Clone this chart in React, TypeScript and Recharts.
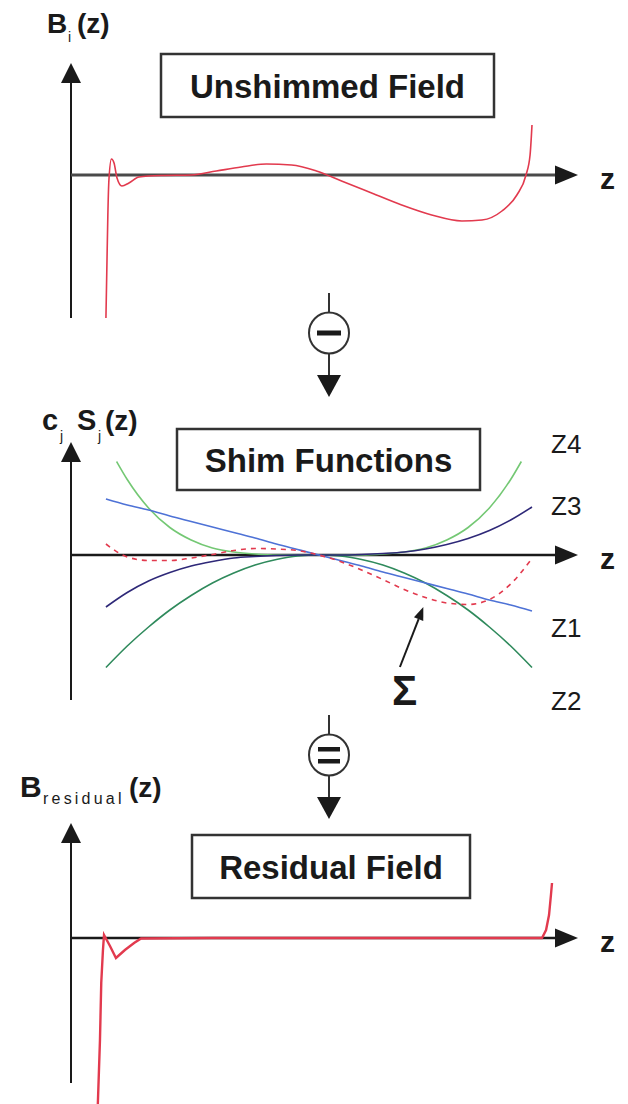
import { LineChart, Line, XAxis, YAxis, ReferenceLine } from 'recharts'

// horizontal extent shared by the three panels (z = ±1 spans the coil region)
const Z_MIN = -1.164
const Z_MAX = 1.216

// unshimmed field B_i(z)
const fieldZ = [
  -1.0, -0.995, -0.991, -0.986, -0.974, -0.962, -0.948, -0.925, -0.892, -0.845,
  -0.741, -0.6, -0.482, -0.365, -0.247, -0.129, -0.012, 0.106, 0.247, 0.388,
  0.529, 0.671, 0.765, 0.859, 0.929, 0.972, 0.991, 1.0,
]
const fieldB = [
  -2.86, -1.7, -0.8, -0.1, 0.32, 0.24, -0.06, -0.22, -0.16, -0.04,
  -0.01, 0, 0.08, 0.16, 0.22, 0.2, 0.08, -0.12, -0.36, -0.6,
  -0.8, -0.92, -0.9, -0.72, -0.4, 0, 0.4, 1.0,
]

// shim functions c_j S_j(z)
const shimZ = [
  -1, -0.9, -0.8, -0.7, -0.6, -0.5, -0.4, -0.3, -0.2, -0.1, 0,
  0.1, 0.2, 0.3, 0.4, 0.5, 0.6, 0.7, 0.8, 0.9, 1,
]
const shimZ1 = [
  1.12, 1.0, 0.9, 0.78, 0.67, 0.56, 0.45, 0.34, 0.22, 0.11, 0,
  -0.11, -0.22, -0.34, -0.45, -0.56, -0.67, -0.78, -0.9, -1.0, -1.12,
]
const shimZ2 = [
  -2.25, -1.82, -1.44, -1.1, -0.81, -0.56, -0.36, -0.2, -0.09, -0.02, 0,
  -0.02, -0.09, -0.2, -0.36, -0.56, -0.81, -1.1, -1.44, -1.82, -2.25,
]
const shimZ3 = [
  -1.04, -0.75, -0.52, -0.35, -0.22, -0.13, -0.06, -0.03, -0.01, 0, 0,
  0, 0.01, 0.03, 0.06, 0.12, 0.21, 0.33, 0.49, 0.7, 0.96,
]
const shimSum = [
  0.22, -0.04, -0.11, -0.11, -0.06, 0.01, 0.09, 0.13, 0.12, 0.09, 0,
  -0.13, -0.3, -0.49, -0.69, -0.85, -0.96, -0.99, -0.89, -0.58, -0.07,
]
const z4Z = [
  -0.95, -0.9, -0.8, -0.7, -0.6, -0.5, -0.4, -0.3, -0.2, -0.1, 0,
  0.1, 0.2, 0.3, 0.4, 0.5, 0.6, 0.7, 0.8, 0.9, 0.95,
]
const shimZ4 = [
  1.87, 1.51, 0.94, 0.55, 0.3, 0.14, 0.06, 0.02, 0, 0, 0,
  0, 0, 0.02, 0.06, 0.14, 0.3, 0.55, 0.94, 1.51, 1.87,
]

// residual field after shimming
const residualZ = [
  -1.038, -1.028, -1.022, -1.014, -1.009, -0.981, -0.953, -0.911, -0.868, -0.835,
  -0.5, 0, 0.5, 1.047, 1.066, 1.08, 1.089, 1.094,
]
const residualB = [
  -3.32, -2.04, -0.9, -0.24, 0.06, -0.16, -0.4, -0.24, -0.1, -0.01,
  0, 0, 0, 0, 0.16, 0.46, 0.86, 1.1,
]

const fieldData = fieldZ.map((z, i) => ({ z, b: fieldB[i] }))
const shimData = shimZ.map((z, i) => ({
  z,
  z1: shimZ1[i],
  z2: shimZ2[i],
  z3: shimZ3[i],
  sum: shimSum[i],
}))
const z4Data = z4Z.map((z, i) => ({ z, z4: shimZ4[i] }))
const residualData = residualZ.map((z, i) => ({ z, b: residualB[i] }))

const FONT = "'Liberation Sans', Arial, Helvetica, sans-serif"
const INK = '#1a1a1a'
const RED = '#e23a4e'

// line with a filled triangular head at (x2, y2)
const arrow =
  (head: number, halfW: number, color = INK, width = 2) =>
  (p: any) => {
    const { x1, y1, x2, y2 } = p
    const dx = x2 - x1
    const dy = y2 - y1
    const len = Math.hypot(dx, dy) || 1
    const ux = dx / len
    const uy = dy / len
    const bx = x2 - ux * head
    const by = y2 - uy * head
    const nx = -uy * halfW
    const ny = ux * halfW
    return (
      <g>
        <line x1={x1} y1={y1} x2={bx} y2={by} stroke={color} strokeWidth={width} />
        <polygon
          points={`${x2},${y2} ${bx + nx},${by + ny} ${bx - nx},${by - ny}`}
          fill={INK}
        />
      </g>
    )
  }

const W = 628
const MARGIN_X = { left: 71, right: W - 578 }

function Panel({
  top,
  height,
  margin,
  yDomain,
  yAxisFrom,
  axisColor = INK,
  axisWidth = 2.5,
  children,
}: {
  top: number
  height: number
  margin: { top: number; bottom: number }
  yDomain: [number, number]
  yAxisFrom: number
  axisColor?: string
  axisWidth?: number
  children: React.ReactNode
}) {
  return (
    <div style={{ position: 'absolute', left: 0, top }}>
      <LineChart
        width={W}
        height={height}
        margin={{ ...MARGIN_X, ...margin }}
      >
        <XAxis type="number" dataKey="z" domain={[Z_MIN, Z_MAX]} hide allowDataOverflow />
        <YAxis type="number" domain={yDomain} hide allowDataOverflow />
        <ReferenceLine
          segment={[
            { x: Z_MIN, y: yAxisFrom },
            { x: Z_MIN, y: yDomain[1] },
          ]}
          shape={arrow(20, 10)}
        />
        <ReferenceLine y={0} shape={arrow(23, 9.5, axisColor, axisWidth)} />
        {children}
      </LineChart>
    </div>
  )
}

function Box({ x, y, w, h, text }: { x: number; y: number; w: number; h: number; text: string }) {
  return (
    <g>
      <rect x={x} y={y} width={w} height={h} fill="#fff" stroke="#333" strokeWidth={2.5} />
      <text
        x={x + w / 2}
        y={y + h / 2 + 12}
        textAnchor="middle"
        fontSize={33}
        fontWeight="bold"
        fill={INK}
      >
        {text}
      </text>
    </g>
  )
}

function Operator({ top, kind }: { top: number; kind: 'minus' | 'equals' }) {
  const cx = 329
  const cy = top + 40
  return (
    <g stroke="#333" strokeWidth={2}>
      <line x1={cx} y1={top} x2={cx} y2={cy - 20} />
      <ellipse cx={cx} cy={cy} rx={20} ry={20.5} fill="#fff" />
      {kind === 'minus' ? (
        <rect x={cx - 12} y={cy - 2.5} width={24} height={5} fill={INK} stroke="none" />
      ) : (
        <>
          <rect x={cx - 11} y={cy - 8} width={22} height={4.5} fill={INK} stroke="none" />
          <rect x={cx - 11} y={cy + 4} width={22} height={4.5} fill={INK} stroke="none" />
        </>
      )}
      <line x1={cx} y1={cy + 20} x2={cx} y2={cy + 44} />
      <polygon
        points={`${cx - 12},${cy + 42} ${cx + 12},${cy + 42} ${cx},${cy + 64}`}
        fill={INK}
        stroke="none"
      />
    </g>
  )
}

export default function App() {
  return (
    <div style={{ position: 'relative', width: W, height: 1104, background: '#fff', fontFamily: FONT }}>
      <style>{'body{margin:0}'}</style>

      <Panel
        top={0}
        height={325}
        margin={{ top: 63, bottom: 7 }}
        yDomain={[-2.86, 2.24]}
        yAxisFrom={-2.86}
        axisColor="#4a4a4a"
        axisWidth={3}
      >
        <Line
          data={fieldData}
          dataKey="b"
          type="monotone"
          stroke={RED}
          strokeWidth={1.6}
          dot={false}
          activeDot={false}
          isAnimationActive={false}
        />
      </Panel>

      <Panel top={400} height={310} margin={{ top: 42, bottom: 10 }} yDomain={[-2.9, 2.26]} yAxisFrom={-2.9}>
        <Line data={z4Data} dataKey="z4" type="monotone" stroke="#74c874" strokeWidth={1.6} dot={false} activeDot={false} isAnimationActive={false} />
        <Line data={shimData} dataKey="z2" type="monotone" stroke="#2f8a5c" strokeWidth={1.6} dot={false} activeDot={false} isAnimationActive={false} />
        <Line data={shimData} dataKey="z3" type="monotone" stroke="#2e2878" strokeWidth={1.6} dot={false} activeDot={false} isAnimationActive={false} />
        <Line data={shimData} dataKey="z1" type="monotone" stroke="#4e72d6" strokeWidth={1.6} dot={false} activeDot={false} isAnimationActive={false} />
        <Line
          data={shimData}
          dataKey="sum"
          type="monotone"
          stroke={RED}
          strokeWidth={1.6}
          strokeDasharray="5 5"
          dot={false}
          activeDot={false}
          isAnimationActive={false}
        />
        {/* pointer from the Σ label to the summed curve */}
        <ReferenceLine
          segment={[
            { x: 0.38, y: -2.24 },
            { x: 0.49, y: -1.04 },
          ]}
          shape={arrow(13, 5, INK, 2)}
        />
      </Panel>

      <Panel top={800} height={304} margin={{ top: 23, bottom: 0 }} yDomain={[-3.32, 2.3]} yAxisFrom={-2.9}>
        <Line
          data={residualData}
          dataKey="b"
          type="linear"
          stroke={RED}
          strokeWidth={2.4}
          dot={false}
          activeDot={false}
          isAnimationActive={false}
        />
      </Panel>

      {/* titles, axis names and operators */}
      <svg
        width={W}
        height={1104}
        style={{ position: 'absolute', left: 0, top: 0, pointerEvents: 'none' }}
        fontFamily={FONT}
      >
        <text x={47} y={33} fontSize={28} fontWeight="bold" fill={INK}>B</text>
        <text x={68} y={42} fontSize={14} fill={INK}>i</text>
        <text x={77} y={33} fontSize={28} fontWeight="bold" fill={INK}>(z)</text>
        <Box x={161} y={54} w={333} h={63} text="Unshimmed Field" />
        <text x={600} y={189} fontSize={30} fontWeight="bold" fill={INK}>z</text>

        <Operator top={293} kind="minus" />

        <text x={42} y={430} fontSize={29} fontWeight="bold" fill={INK}>c</text>
        <text x={60} y={441} fontSize={14} fill={INK}>j</text>
        <text x={77} y={430} fontSize={29} fontWeight="bold" fill={INK}>S</text>
        <text x={98} y={441} fontSize={14} fill={INK}>j</text>
        <text x={105} y={430} fontSize={28} fontWeight="bold" fill={INK}>(z)</text>
        <Box x={177} y={429} w={303} h={61} text="Shim Functions" />
        <text x={600} y={569} fontSize={30} fontWeight="bold" fill={INK}>z</text>
        <text x={551} y={453} fontSize={26} fill={INK}>Z4</text>
        <text x={551} y={515} fontSize={26} fill={INK}>Z3</text>
        <text x={551} y={637} fontSize={26} fill={INK}>Z1</text>
        <text x={551} y={710} fontSize={26} fill={INK}>Z2</text>
        <text x={392} y={705} fontSize={42} fontWeight="bold" fill={INK}>Σ</text>

        <Operator top={715} kind="equals" />

        <text x={20} y={797} fontSize={30} fontWeight="bold" fill={INK}>B</text>
        <text x={43} y={804} fontSize={16} letterSpacing={3.2} fill={INK}>residual</text>
        <text x={129} y={797} fontSize={28} fontWeight="bold" fill={INK}>(z)</text>
        <Box x={192} y={835} w={278} h={63} text="Residual Field" />
        <text x={600} y={952} fontSize={30} fontWeight="bold" fill={INK}>z</text>
      </svg>
    </div>
  )
}
